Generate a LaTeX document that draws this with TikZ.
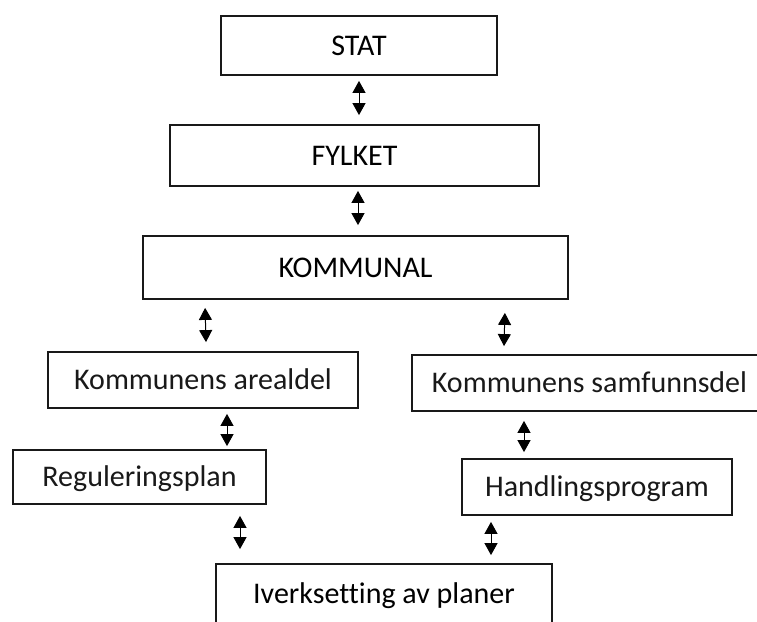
\documentclass[tikz,border=0pt]{standalone}
\usepackage{fontspec}
\setmainfont{Carlito}[Ligatures=NoCommon]
\usetikzlibrary{arrows.meta}
\begin{document}
\begin{tikzpicture}[x=1pt,y=-1pt,
  box/.style={draw=black!90, line width=1.8pt, rectangle, inner sep=0pt,
    font=\fontsize{30}{36}\selectfont, text height=19.3pt, text depth=0pt},
  sub/.style={box, text=black!90},
  arr/.style={{Triangle[width=13pt,length=12pt]}-{Triangle[width=13pt,length=12pt]}, line width=1pt, black}]
\useasboundingbox (0,0) rectangle (757,621);
\clip (0,0) rectangle (757,621);
\fill[white] (0,0) rectangle (757,621);
\node[box, minimum width=276pt, minimum height=59pt] (stat) at (359,45.5) {STAT};
\node[box, minimum width=369pt, minimum height=61pt] (fylket) at (354.5,155.5) {FYLKET};
\node[box, minimum width=425pt, minimum height=63pt] (kommunal) at (355.5,267.5) {KOMMUNAL};
\node[sub, minimum width=310pt, minimum height=56pt] (arealdel) at (203,380) {Kommunens arealdel};
\node[sub, minimum width=355pt, minimum height=56pt] (samfunn) at (589.5,383) {Kommunens samfunnsdel};
\node[sub, minimum width=253pt, minimum height=54pt] (regul) at (139.5,477) {Reguleringsplan};
\node[sub, minimum width=270pt, minimum height=56pt] (handling) at (597,487) {Handlingsprogram};
\node[box, minimum width=336pt, minimum height=60pt] (iverk) at (384,594) {Iverksetting av planer};
\draw[arr] ([yshift=-5pt]stat.south) -- ([xshift=4.5pt,yshift=9pt]fylket.north);
\draw[arr] ([xshift=3.5pt,yshift=-4pt]fylket.south) -- ([xshift=2.5pt,yshift=10pt]kommunal.north);
\draw[arr] ([xshift=63pt,yshift=-8pt]kommunal.south west) -- ([xshift=3pt,yshift=9pt]arealdel.north);
\draw[arr] ([xshift=-64pt,yshift=-13pt]kommunal.south east) -- ([xshift=-85.5pt,yshift=8pt]samfunn.north);
\draw[arr] ([xshift=24pt,yshift=-5pt]arealdel.south) -- ([xshift=87.5pt,yshift=3pt]regul.north);
\draw[arr] ([xshift=-65.5pt,yshift=-9pt]samfunn.south) -- ([xshift=-73pt,yshift=6pt]handling.north);
\draw[arr] ([xshift=100.5pt,yshift=-11pt]regul.south) -- ([xshift=-144pt,yshift=14pt]iverk.north);
\draw[arr] ([xshift=-106pt,yshift=-6pt]handling.south) -- ([xshift=107pt,yshift=8pt]iverk.north);
\end{tikzpicture}
\end{document}
